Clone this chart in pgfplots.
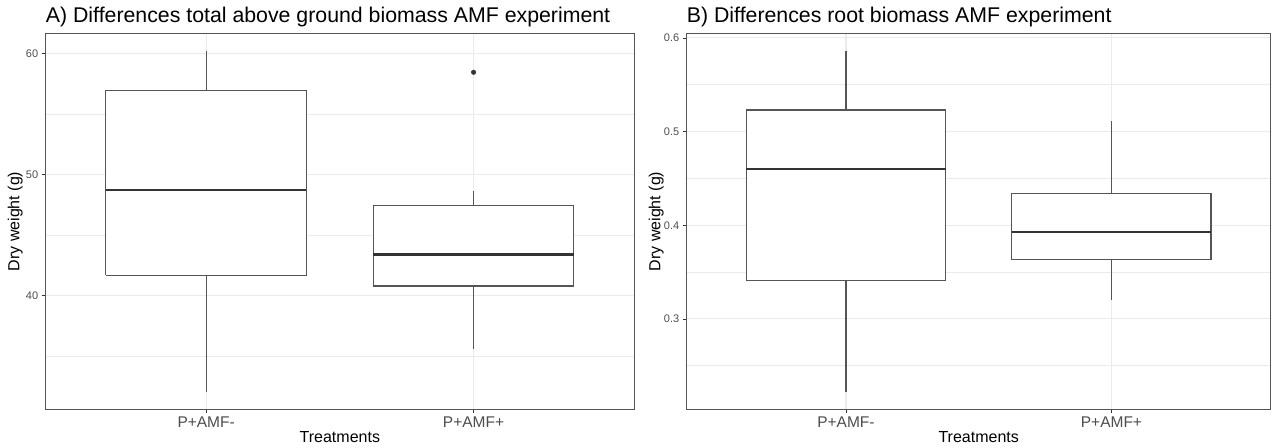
\documentclass[border=0pt]{standalone}
\usepackage{pgfplots}
\pgfplotsset{compat=1.18}
\usepackage{fontspec}
\setmainfont{Liberation Sans}

\definecolor{gray20}{HTML}{333333}
\definecolor{gray30}{HTML}{4D4D4D}
\definecolor{gray92}{HTML}{EBEBEB}
\definecolor{boxline}{HTML}{555555}

\pgfplotsset{
  ggbox/.style={
    width=588.3pt, height=375pt, scale only axis,
    xmin=0.4, xmax=2.6,
    xtick={1,2}, xticklabels={P+AMF-,P+AMF+},
    tick pos=left, tick align=outside,
    major tick length=4pt,
    minor tick length=0pt,
    tick style={gray20, line width=0.8pt},
    grid=both,
    major grid style={gray92, line width=1.1pt},
    minor grid style={gray92, line width=0.6pt},
    axis line style={boxline, line width=1pt},
    /pgf/number format/assume math mode=true,
    yticklabel style={font=\fontsize{11}{13}\selectfont, text=gray30},
    xticklabel style={font=\fontsize{15.5}{17}\selectfont, text=gray30},
    xlabel={Treatments},
    ylabel={Dry weight (g)},
    xlabel style={font=\fontsize{16}{18}\selectfont, at={(axis description cs:0.5,0)}, anchor=base, yshift=-33pt},
    ylabel style={font=\fontsize{16}{18}\selectfont, at={(axis description cs:0,0.5)}, anchor=center, yshift=30.5pt},
    title style={font=\fontsize{21.3}{23}\selectfont, at={(axis description cs:0,1)}, anchor=base west, inner sep=0pt, yshift=5pt},
  },
  % box outline, whiskers, median, outlier
  bx/.style={draw=boxline, line width=1.1pt, fill=white, mark=none},
  wh/.style={draw=boxline, line width=1.1pt, mark=none},
  md/.style={draw=gray20, line width=2.2pt, mark=none},
  ol/.style={only marks, mark=*, mark size=2.3pt, mark options={fill=gray20, draw=gray20}},
}

\begin{document}
\begin{tikzpicture}
\begin{axis}[ggbox, at={(0pt,0pt)}, anchor=south west,
  title={A) Differences total above ground biomass AMF experiment},
  ymin=30.64, ymax=61.62,
  ytick={40,50,60}, minor ytick={35,45,55},
]
% P+AMF-
\addplot[wh] coordinates {(1,56.97) (1,60.2)};
\addplot[wh] coordinates {(1,32.05) (1,41.68)};
\addplot[bx] coordinates {(0.625,41.68) (1.375,41.68) (1.375,56.97) (0.625,56.97) (0.625,41.68)};
\addplot[md] coordinates {(0.625,48.72) (1.375,48.72)};
% P+AMF+
\addplot[wh] coordinates {(2,47.43) (2,48.64)};
\addplot[wh] coordinates {(2,35.6) (2,40.8)};
\addplot[bx] coordinates {(1.625,40.8) (2.375,40.8) (2.375,47.43) (1.625,47.43) (1.625,40.8)};
\addplot[md] coordinates {(1.625,43.4) (2.375,43.4)};
\addplot[ol] coordinates {(2,58.46)};
\end{axis}

\begin{axis}[ggbox, at={(641pt,0pt)}, anchor=south west, width=584pt,
  title={B) Differences root biomass AMF experiment},
  ymin=0.2038, ymax=0.6042,
  ytick={0.3,0.4,0.5,0.6}, minor ytick={0.25,0.35,0.45,0.55},
  yticklabel style={/pgf/number format/fixed, /pgf/number format/fixed zerofill, /pgf/number format/precision=1},
]
% P+AMF-
\addplot[wh] coordinates {(1,0.523) (1,0.586)};
\addplot[wh] coordinates {(1,0.222) (1,0.341)};
\addplot[bx] coordinates {(0.625,0.341) (1.375,0.341) (1.375,0.523) (0.625,0.523) (0.625,0.341)};
\addplot[md] coordinates {(0.625,0.460) (1.375,0.460)};
% P+AMF+
\addplot[wh] coordinates {(2,0.434) (2,0.511)};
\addplot[wh] coordinates {(2,0.320) (2,0.363)};
\addplot[bx] coordinates {(1.625,0.363) (2.375,0.363) (2.375,0.434) (1.625,0.434) (1.625,0.363)};
\addplot[md] coordinates {(1.625,0.393) (2.375,0.393)};
\end{axis}
\path (-45.7pt,-38pt) rectangle (1227.3pt,409pt);
\end{tikzpicture}
\end{document}
